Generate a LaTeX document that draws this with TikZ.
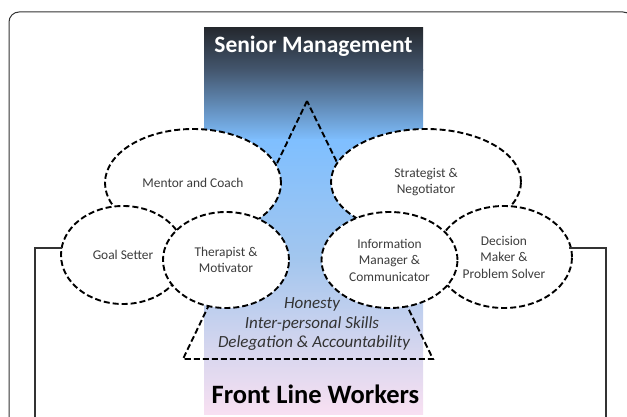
\documentclass[tikz,border=0pt]{standalone}
\usepackage{fontspec}
\setmainfont{Carlito}
\usetikzlibrary{shapes.geometric}
\definecolor{g1}{HTML}{25292F}
\definecolor{g2}{HTML}{44576F}
\definecolor{g3}{HTML}{7FBFFF}
\definecolor{g4}{HTML}{A3C6EE}
\definecolor{g5}{HTML}{D6D6EE}
\definecolor{g6}{HTML}{F8E0F2}
\definecolor{ink}{HTML}{333333}
\definecolor{etext}{HTML}{3C3C3C}
\begin{document}
\begin{tikzpicture}[x=1pt,y=-1pt,
  frameline/.style={draw=ink,line width=1pt,rounded corners=10pt},
  dline/.style={draw=black,line width=1.9pt,dash pattern=on 6pt off 3pt},
  bubble/.style={ellipse,dline,fill=white,inner sep=0pt,align=center,
     text=etext,font=\fontsize{13.4}{16.5}\selectfont},
  bracket/.style={draw=ink,line width=1.3pt},
  title/.style={inner sep=0pt,anchor=base,font=\bfseries\fontsize{23.5}{26}\selectfont},
  trait/.style={inner sep=0pt,anchor=base,text=ink,font=\itshape\fontsize{17}{20}\selectfont}]
\useasboundingbox (0,0) rectangle (627,417);
\clip (0,0) rectangle (627,417);
% outer frame
\draw[frameline] (9,12) rectangle (633,440);
% gradient column
\shade[top color=g1,bottom color=g2] (204,28) rectangle (423,70.5);
\shade[top color=g2,bottom color=g3] (204,70) rectangle (423,140.5);
\shade[top color=g3,bottom color=g4] (204,140) rectangle (423,260.5);
\shade[top color=g4,bottom color=g5] (204,260) rectangle (423,350.5);
\shade[top color=g5,bottom color=g6] (204,350) rectangle (423,414);
\node[title,text=white] (senior) at (313.5,53) {Senior Management};
\node[title,text=black,font=\bfseries\fontsize{26.5}{29}\selectfont] (front) at (315.5,403) {Front Line Workers};
% dashed triangle
\coordinate (apex) at (307,101);
\coordinate (bl) at (183,359);
\coordinate (br) at (433,359);
\draw[dline,line join=miter] (apex) -- (bl) -- (br) -- cycle;
% bubbles
\node[bubble,minimum width=176pt,minimum height=108pt] (mentor) at (193,183) {Mentor and Coach};
\node[bubble,minimum width=190pt,minimum height=106pt] (strat) at (426,182) {Strategist \&\\Negotiator};
\node[bubble,minimum width=124pt,minimum height=98pt] (goal) at (123,255) {Goal Setter};
\node[bubble,minimum width=126pt,minimum height=96pt] (ther) at (226,260) {Therapist \&\\Motivator};
\node[bubble,minimum width=136pt,minimum height=102pt] (dec) at (504,257) {Decision\\Maker \&\\Problem Solver};
\node[bubble,minimum width=136pt,minimum height=96pt] (info) at (389.5,260) {Information\\Manager \&\\Communicator};
% traits
\node[trait] (hon) at (312,308) {Honesty};
\node[trait] (ips) at (312,328) {Inter-personal Skills};
\node[trait] (del) at (314,347) {Delegation \& Accountability};
% brackets
\coordinate (lend) at (62,248);
\coordinate (lcorner) at (35,248);
\coordinate (lfoot) at (35,440);
\coordinate (rend) at (569,248);
\coordinate (rcorner) at (606,248);
\coordinate (rfoot) at (606,440);
\draw[bracket] (lend) -- (lcorner) -- (lfoot);
\draw[bracket] (rend) -- (rcorner) -- (rfoot);
\end{tikzpicture}
\end{document}
